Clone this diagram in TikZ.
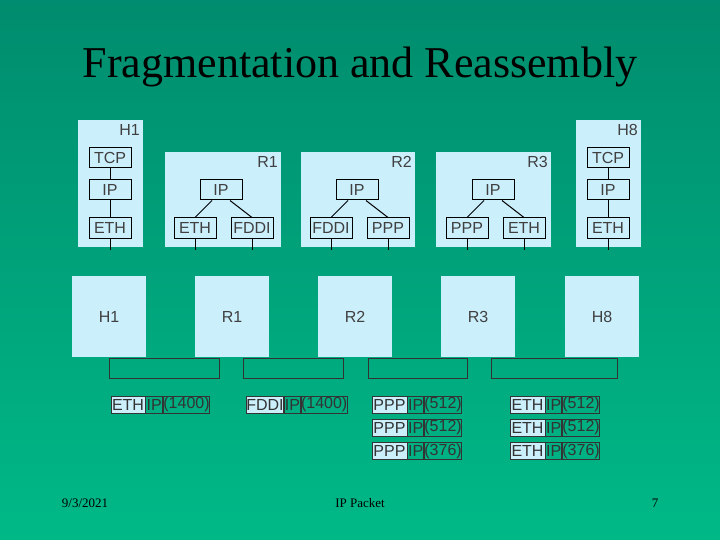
\documentclass[tikz,border=0pt]{standalone}
\usepackage{fontspec}
\setmainfont{Liberation Sans}
\newfontfamily\serif{Liberation Serif}
\begin{document}
\begin{tikzpicture}[x=1pt,y=-1pt,
  panel/.style={fill=cyan!20!white,draw=none},
  lay/.style={draw=black,line width=1pt,minimum height=20pt,inner sep=0pt,text=black!75,font=\fontsize{16}{16}\selectfont},
  big/.style={fill=cyan!20!white,draw=none,minimum width=74pt,minimum height=81pt,inner sep=0pt,text=black!75,font=\fontsize{16}{16}\selectfont},
  lbl/.style={text=black!75,font=\fontsize{16}{16}\selectfont,anchor=east,inner sep=0pt},
  pk/.style={draw=black!80,line width=0.7pt,minimum height=17pt,inner sep=0pt,text=black!80,font=\fontsize{16}{16}\selectfont},
  pkf/.style={pk,fill=cyan!20!white},
  ln/.style={line width=1pt,black},
  br/.style={line width=0.7pt,black!80}]
\shade[top color={rgb,255:red,0;green,140;blue,110},bottom color={rgb,255:red,0;green,185;blue,135}] (0,0) rectangle (720,540);
\useasboundingbox (0,0) rectangle (720,540);
\node[font=\serif\fontsize{44}{44}\selectfont] (title) at (360,67) {Fragmentation and Reassembly};
% top panels
\fill[panel] (78,120) rectangle (143,247);
\fill[panel] (165,152) rectangle (281,247);
\fill[panel] (301,152) rectangle (415,247);
\fill[panel] (436,152) rectangle (551,247);
\fill[panel] (576,120) rectangle (641,247);
\node[lbl] (lh1) at (140,130) {H1};
\node[lbl] (lr1) at (278,162) {R1};
\node[lbl] (lr2) at (412,162) {R2};
\node[lbl] (lr3) at (548,162) {R3};
\node[lbl] (lh8) at (638,130) {H8};
% H1 stack
\node[lay,minimum width=42pt] (h1t) at (110,158) {TCP};
\node[lay,minimum width=42pt] (h1i) at (110,190) {IP};
\node[lay,minimum width=42pt] (h1e) at (110,228) {ETH};
\draw[ln] (h1t)--(h1i); \draw[ln] (h1i)--(h1e);
\coordinate (h1d) at (110,250); \draw[ln] (h1e.south)--(h1d);
% H8 stack
\node[lay,minimum width=42pt] (h8t) at (608,158) {TCP};
\node[lay,minimum width=42pt] (h8i) at (608,190) {IP};
\node[lay,minimum width=42pt] (h8e) at (608,228) {ETH};
\draw[ln] (h8t)--(h8i); \draw[ln] (h8i)--(h8e);
\coordinate (h8d) at (608,250); \draw[ln] (h8e.south)--(h8d);
% routers
\foreach \n/\cx/\a/\b in {r1/221/ETH/FDDI, r2/357/FDDI/PPP, r3/493/PPP/ETH}{
  \node[lay,minimum width=42pt] (\n i) at (\cx,190) {IP};
  \node[lay,minimum width=42pt] (\n a) at (\cx-26,228) {\a};
  \node[lay,minimum width=42pt] (\n b) at (\cx+31,228) {\b};
  \draw[ln] (\n i.south)+(-9,0) -- (\n a.north);
  \draw[ln] (\n i.south)+(9,0) -- (\n b.north);
  \coordinate (\n ad) at (\cx-26,250); \coordinate (\n bd) at (\cx+31,250);
  \draw[ln] (\n a.south)--(\n ad); \draw[ln] (\n b.south)--(\n bd);
}
% bottom brackets
\draw[br] (109,358) rectangle (219,378);
\draw[br] (243,358) rectangle (343,378);
\draw[br] (368,358) rectangle (467,378);
\draw[br] (491,358) rectangle (617,378);
% bottom boxes
\node[big] (bh1) at (109,316.5) {H1};
\node[big] (br1) at (232,316.5) {R1};
\node[big] (br2) at (355,316.5) {R2};
\node[big] (br3) at (478,316.5) {R3};
\node[big] (bh8) at (602,316.5) {H8};
% packets
\node[pkf,minimum width=34pt] (p1a) at (128,404.5) {ETH};
\node[pk,minimum width=17pt,anchor=west] (p1b) at (p1a.east) {IP};
\node[pk,minimum width=43pt,anchor=west] (p1c) at (p1b.east) {(1400)};
\node[pkf,minimum width=34pt] (p2a) at (265,404.5) {FDDI};
\node[pk,minimum width=16pt,anchor=west] (p2b) at (p2a.east) {IP};
\node[pk,minimum width=44pt,anchor=west] (p2c) at (p2b.east) {(1400)};
\foreach \r/\y/\s in {1/404.5/512, 2/427.5/512, 3/451/376}{
  \node[pkf,minimum width=35pt] (q\r a) at (389.5,\y) {PPP};
  \node[pk,minimum width=16pt,anchor=west] (q\r b) at (q\r a.east) {IP};
  \node[pk,minimum width=35pt,anchor=west] (q\r c) at (q\r b.east) {(\s)};
  \node[pkf,minimum width=35pt] (e\r a) at (527.5,\y) {ETH};
  \node[pk,minimum width=16pt,anchor=west] (e\r b) at (e\r a.east) {IP};
  \node[pk,minimum width=35pt,anchor=west] (e\r c) at (e\r b.east) {(\s)};
}
% footer
\node[font=\serif\fontsize{13}{13}\selectfont,text=black] (date) at (85,503) {9/3/2021};
\node[font=\serif\fontsize{13}{13}\selectfont,text=black] (foot) at (360,503) {IP Packet};
\node[font=\serif\fontsize{13}{13}\selectfont,text=black] (pg) at (655,503) {7};
\end{tikzpicture}
\end{document}
